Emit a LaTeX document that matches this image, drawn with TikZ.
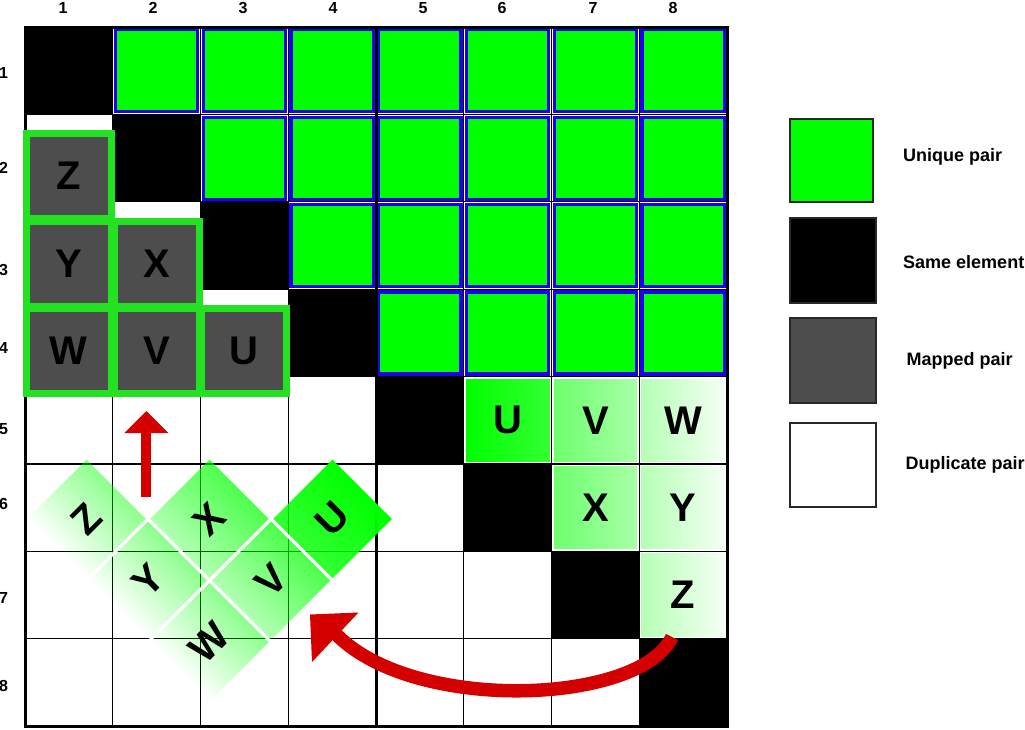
\documentclass[tikz,border=0pt]{standalone}
\usepackage{fontspec}
\setmainfont{Liberation Sans}
\usetikzlibrary{fadings,calc}
\definecolor{lime}{RGB}{0,255,0}
\definecolor{cellblue}{RGB}{30,0,240}
\definecolor{mapgreen}{RGB}{34,226,34}
\definecolor{mapgray}{RGB}{77,77,77}
\definecolor{arrowred}{RGB}{212,0,0}
\definecolor{legendedge}{RGB}{40,40,40}
\tikzfading[name=fadeU, left color=transparent!20, right color=transparent!0]
\tikzfading[name=fadeM, left color=transparent!70, right color=transparent!30]
\tikzfading[name=fadeL, left color=transparent!100, right color=transparent!55]
\begin{document}
\begin{tikzpicture}[x=1pt,y=-1pt,
  gridline/.style={line width=1.3pt, black},
  greencell/.style={fill=lime, draw=cellblue, line width=3.2pt},
  bigletter/.style={font=\fontsize{40}{40}\selectfont\bfseries, inner sep=0pt},
  mapbox/.style={draw=mapgreen, line width=7pt, fill=mapgray, minimum size=85pt, inner sep=0pt, bigletter},
  axislabel/.style={font=\fontsize{16}{16}\selectfont\bfseries, inner sep=0pt},
  legbox/.style={draw=legendedge, line width=1.2pt, inner sep=0pt},
  legtext/.style={anchor=base west, inner sep=0pt, font=\fontsize{18}{18}\selectfont\bfseries},
  gapline/.style={white, line width=3pt},
  redshaft/.style={draw=arrowred, line cap=butt},
]
\useasboundingbox (0,0) rectangle (1025,729);
\fill[white] (0,0) rectangle (1025,729);

% grid
\foreach \i in {0,...,8}{
  \draw[gridline] ({25+\i*87.75},27) -- ({25+\i*87.75},726.2);
  \draw[gridline] (25,{27+\i*87.4}) -- (727,{27+\i*87.4});
}
% diagonal: same element
\foreach \i in {0,...,7}{
  \fill[black] ({25+\i*87.75},{27+\i*87.4}) rectangle ({25+(\i+1)*87.75},{27+(\i+1)*87.4});
}
% unique pairs
\foreach \rr in {1,...,4}{
  \pgfmathtruncatemacro{\ss}{\rr+1}
  \foreach \cc in {\ss,...,8}{
    \draw[greencell] ({25+(\cc-1)*87.75+2.7},{27+(\rr-1)*87.4+2.7}) rectangle ({25+\cc*87.75-2.7},{27+\rr*87.4-2.7});
  }
}
% thick lines
\draw[line width=3pt] (25,27) rectangle (727,726.2);
\draw[line width=3pt] (376,27) -- (376,726.2);

% gradient cells on the right
\foreach \rr/\cc/\a/\b/\tx in {5/6/100/80/U,5/7/57/34/V,5/8/29/4/W,6/7/57/34/X,6/8/29/4/Y,7/8/29/4/Z}{
  \shadedraw[left color=lime!\a!white, right color=lime!\b!white, draw=white, line width=1pt]
   ({25+(\cc-1)*87.75+1.5},{27+(\rr-1)*87.4+1.5}) rectangle ({25+\cc*87.75-1.5},{27+\rr*87.4-1.5});
  \node[bigletter] (r\tx) at ({25+(\cc-0.5)*87.75},{27+(\rr-0.5)*87.4}) {\tx};
}

% mapped pairs
\foreach \rr/\cc/\tx in {2/1/Z,3/1/Y,3/2/X,4/1/W,4/2/V,4/3/U}{
  \node[mapbox] (m\tx) at ({25+(\cc-0.5)*87.75},{27+(\rr-0.5)*87.4+18}) {\tx};
}

% rotated copies
\coordinate (cZ) at (86.5,519);
\coordinate (cY) at (148,580.5);
\coordinate (cW) at (209.5,642);
\coordinate (cX) at (209.5,519);
\coordinate (cV) at (271,580.5);
\coordinate (cU) at (332.5,519);
\foreach \n/\x/\y/\f in {Z/86.5/519/fadeL, Y/148/580.5/fadeL, W/209.5/642/fadeL, X/209.5/519/fadeM, V/271/580.5/fadeM, U/332.5/519/fadeU}{
  \begin{scope}[transform canvas={rotate around={45:(\x,\y)}}]
    \fill[lime, path fading=\f] ({\x-42},{\y-42}) rectangle ({\x+42},{\y+42});
  \end{scope}
}
\draw[gapline] ($(cZ)!0.5!(cY)$) ++(29.7,-29.7) -- ++(-59.4,59.4);
\draw[gapline] ($(cY)!0.5!(cW)$) ++(29.7,-29.7) -- ++(-59.4,59.4);
\draw[gapline] ($(cX)!0.5!(cV)$) ++(29.7,-29.7) -- ++(-59.4,59.4);
\draw[gapline] ($(cY)!0.5!(cX)$) ++(-29.7,-29.7) -- ++(59.4,59.4);
\draw[gapline] ($(cW)!0.5!(cV)$) ++(-29.7,-29.7) -- ++(59.4,59.4);
\draw[gapline] ($(cV)!0.5!(cU)$) ++(-29.7,-29.7) -- ++(59.4,59.4);
\foreach \n in {Z,Y,W,X,V,U}{
  \node[bigletter, rotate=45] (d\n) at (c\n) {\n};
}

% straight red arrow
\coordinate (sa1) at (146,497);
\coordinate (sa2) at (146,430);
\coordinate (satip) at (146.5,411);
\coordinate (sab1) at (124.3,433);
\coordinate (sab2) at (168.3,433);
\draw[redshaft, line width=9.7pt] (sa1) -- (sa2);
\fill[arrowred] (satip) -- (sab1) -- (sab2) -- cycle;

% curved red arrow
\coordinate (ca1) at (672,637);
\coordinate (ca2) at (334,632);
\coordinate (catip) at (310,614.5);
\coordinate (cab1) at (358.5,612.5);
\coordinate (cab2) at (312,662);
\draw[redshaft, line width=13.5pt] (ca1) .. controls (640,705) and (410,714) .. (ca2);
\fill[arrowred] (catip) -- (cab1) -- (cab2) -- cycle;

% axis labels
\foreach \k/\x in {1/63,2/153,3/243,4/333,5/423,6/502,7/593,8/673}{
  \node[axislabel, anchor=base] (col\k) at (\x,13) {\k};
}
\foreach \k/\y in {1/78.3,2/173,3/275,4/353,5/434,6/509,7/603,8/691}{
  \node[axislabel, anchor=base west] (row\k) at (-1,\y) {\k};
}

% legend
\node[legbox, fill=lime, minimum width=83pt, minimum height=83pt] (lg1) at (831.5,160.5) {};
\node[legbox, fill=black, minimum width=86pt, minimum height=85pt] (lg2) at (833,260.5) {};
\node[legbox, fill=mapgray, minimum width=86pt, minimum height=85pt] (lg3) at (833,360.5) {};
\node[legbox, fill=white, minimum width=86pt, minimum height=84pt] (lg4) at (833,465) {};
\node[legtext] (lt1) at (903,161.7) {Unique pair};
\node[legtext] (lt2) at (903,268.3) {Same element};
\node[legtext] (lt3) at (906.5,365.7) {Mapped pair};
\node[legtext] (lt4) at (905.5,469) {Duplicate pair};
\end{tikzpicture}
\end{document}
